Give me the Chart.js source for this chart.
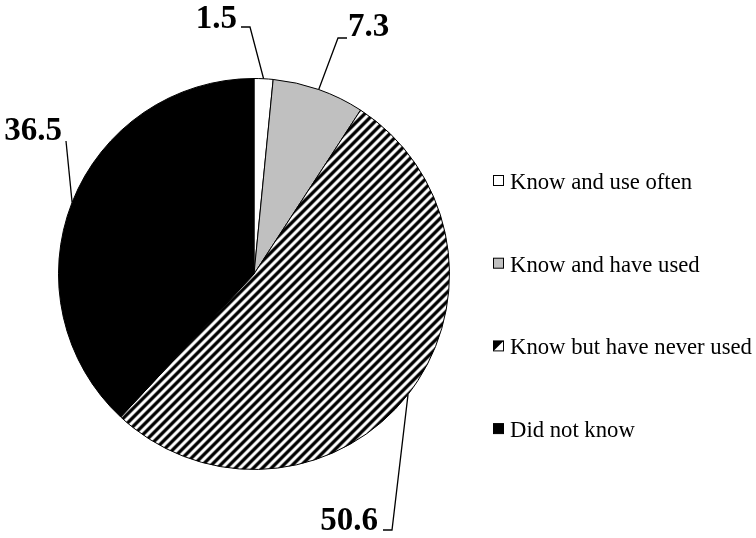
<!DOCTYPE html>
<html>
<head>
<meta charset="utf-8">
<style>
  html, body { margin: 0; padding: 0; background: #fff; }
  #chart { display: block; }
</style>
<script src="https://cdn.jsdelivr.net/npm/chart.js@4/dist/chart.umd.min.js"></script>
</head>
<body>
<canvas id="chart" width="756" height="538"></canvas>
<script>
const categories = ['Know and use often', 'Know and have used', 'Know but have never used', 'Did not know'];
const shares = [1.5, 7.3, 50.6, 36.5];

const canvas = document.querySelector('#chart');

// diagonal "/" stripes, built pixel by pixel so the tile repeats cleanly
const makeHatch = () => {
  const n = 9;
  const tile = document.createElement('canvas');
  tile.width = n;
  tile.height = n;
  const c = tile.getContext('2d');
  const img = c.createImageData(n, n);
  const shade = [0, 0, 30, 150, 245, 255, 245, 150, 30];
  for (let y = 0; y < n; y++) {
    for (let x = 0; x < n; x++) {
      const v = shade[(x + y) % n];
      const k = (y * n + x) * 4;
      img.data[k] = v;
      img.data[k + 1] = v;
      img.data[k + 2] = v;
      img.data[k + 3] = 255;
    }
  }
  c.putImageData(img, 0, 0);
  return c.createPattern(tile, 'repeat');
};

const hatch = makeHatch();
const fills = ['#ffffff', '#c0c0c0', hatch, '#000000'];

// where each value label sits and where its leader line bends
const labelSpots = [
  { x: 237, y: 28, align: 'right', elbow: [250, 27], tick: 241 },
  { x: 348, y: 36, align: 'left', elbow: [338, 38], tick: 347 },
  { x: 378, y: 530, align: 'right', elbow: [392, 530], tick: 383 },
  { x: 62, y: 140, align: 'right', elbow: [66, 141], tick: null },
];

const leaderLabels = {
  id: 'leaderLabels',
  afterDraw(chart) {
    const { ctx } = chart;
    const arcs = chart.getDatasetMeta(0).data;
    ctx.save();
    ctx.strokeStyle = '#000';
    ctx.lineWidth = 1.3;
    ctx.fillStyle = '#000';
    ctx.font = 'bold 33px "Liberation Serif", "Times New Roman", serif';
    ctx.textBaseline = 'alphabetic';
    arcs.forEach((arc, i) => {
      const p = arc.getProps(['x', 'y', 'startAngle', 'endAngle', 'outerRadius'], true);
      const mid = (p.startAngle + p.endAngle) / 2;
      const ex = p.x + Math.cos(mid) * p.outerRadius;
      const ey = p.y + Math.sin(mid) * p.outerRadius;
      const spot = labelSpots[i];
      ctx.beginPath();
      ctx.moveTo(ex, ey);
      ctx.lineTo(spot.elbow[0], spot.elbow[1]);
      if (spot.tick !== null) ctx.lineTo(spot.tick, spot.elbow[1]);
      ctx.stroke();
      ctx.textAlign = spot.align;
      ctx.fillText(shares[i].toFixed(1), spot.x, spot.y);
    });
    ctx.restore();
  },
};

const sideLegend = {
  id: 'sideLegend',
  afterDraw(chart) {
    const { ctx } = chart;
    ctx.save();
    ctx.font = '22.7px "Liberation Serif", "Times New Roman", serif';
    ctx.textAlign = 'left';
    ctx.textBaseline = 'alphabetic';
    categories.forEach((name, i) => {
      const base = 189 + i * 82.7;
      const bx = 493.5;
      const by = base - 13.5;
      const s = 10;
      if (i === 2) {
        ctx.fillStyle = '#fff';
        ctx.fillRect(bx, by, s, s);
        ctx.fillStyle = '#000';
        ctx.beginPath();
        ctx.moveTo(bx, by);
        ctx.lineTo(bx + s, by);
        ctx.lineTo(bx, by + s);
        ctx.closePath();
        ctx.fill();
      } else {
        ctx.fillStyle = fills[i];
        ctx.fillRect(bx, by, s, s);
      }
      ctx.strokeStyle = '#000';
      ctx.lineWidth = 1;
      ctx.strokeRect(bx, by, s, s);
      ctx.fillStyle = '#000';
      ctx.fillText(name, 510, base);
    });
    ctx.restore();
  },
};

new Chart(canvas, {
  type: 'pie',
  data: {
    labels: categories,
    datasets: [{
      data: shares,
      backgroundColor: fills,
      borderColor: '#000',
      borderWidth: 1,
    }],
  },
  options: {
    responsive: false,
    animation: false,
    devicePixelRatio: 1,
    layout: {
      padding: { left: 58, right: 306, top: 78, bottom: 68 },
    },
    plugins: {
      legend: { display: false },
      tooltip: { enabled: false },
    },
  },
  plugins: [leaderLabels, sideLegend],
});
</script>
</body>
</html>
